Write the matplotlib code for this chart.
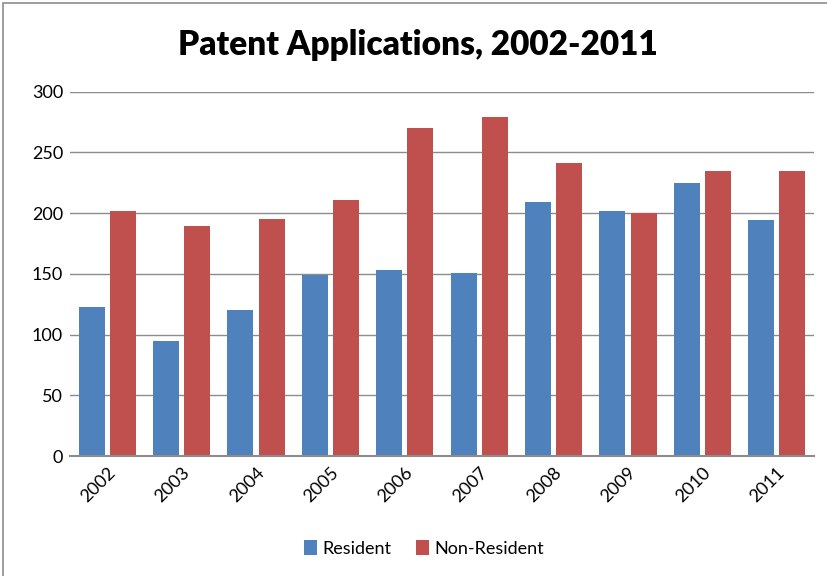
import numpy as np
import matplotlib.pyplot as plt
from matplotlib.patches import Rectangle

# data
years = ['2002', '2003', '2004', '2005', '2006', '2007', '2008', '2009', '2010', '2011']
resident = [123, 95, 120, 149, 153, 151, 209, 202, 225, 194]
non_resident = [202, 189, 195, 211, 270, 279, 241, 200, 235, 235]

plt.rcParams['font.family'] = ['Lato', 'DejaVu Sans']

fig = plt.figure(figsize=(8.28, 5.76), dpi=100)
ax = fig.add_axes([0.0845, 0.2083, 0.8985, 0.6327])

x = np.arange(len(years))
w = 0.35
ax.bar(x - 0.21, resident, w, color='#4F81BD', label='Resident')
ax.bar(x + 0.21, non_resident, w, color='#C0504D', label='Non-Resident')

ax.set_xlim(-0.5, len(years) - 0.5)
ax.set_ylim(0, 300)
ax.set_yticks(range(0, 301, 50))
ax.yaxis.grid(True, color='#8c8c8c', linewidth=1)
ax.set_axisbelow(True)
for s in ['top', 'right', 'left']:
    ax.spines[s].set_visible(False)
ax.spines['bottom'].set_color('#8c8c8c')
ax.spines['bottom'].set_linewidth(1.5)
ax.tick_params(axis='both', length=0, labelsize=13, colors='black')
ax.tick_params(axis='y', pad=5)
ax.tick_params(axis='x', pad=6)
ax.set_xticks(x)
ax.set_xticklabels(years, rotation=45, ha='right', rotation_mode='anchor')

fig.text(0.505, 0.922, 'Patent Applications, 2002-2011', ha='center', va='center',
         fontsize=24, fontweight='heavy')

fig.legend(loc='center', bbox_to_anchor=(0.512, 0.048), ncol=2, frameon=False,
           fontsize=13, handlelength=0.7, handleheight=0.9, handletextpad=0.3,
           columnspacing=1.4)

# outer chart frame
fig.patches.append(Rectangle((0.004, -0.05), 1.2, 1.045, transform=fig.transFigure,
                             fill=False, edgecolor='#8c8c8c', linewidth=1.2))

fig.savefig('out.png', dpi=100)
